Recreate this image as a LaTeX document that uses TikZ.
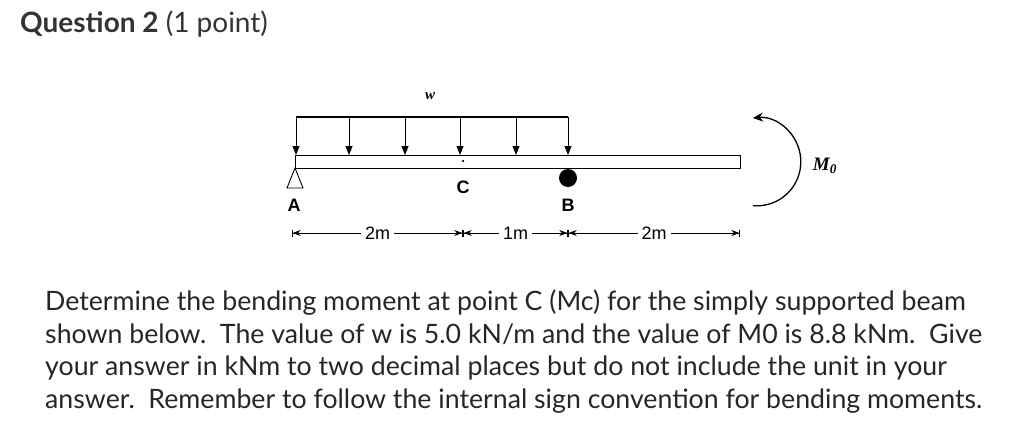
\documentclass[tikz,border=0pt]{standalone}
\usepackage{fontspec}
\setmainfont{Lato}
\newfontfamily\arialf{Liberation Sans}
\newfontfamily\timesf{Liberation Serif}
\usetikzlibrary{arrows.meta}
\begin{document}
\begin{tikzpicture}[x=1pt,y=-1pt,
  load/.style={-{Triangle[length=9pt,width=7pt]},line width=1pt},
  dim/.style={{Bar[width=7pt]Stealth[length=8pt,width=6pt]}-{Stealth[length=8pt,width=6pt]Bar[width=7pt]},line width=0.7pt},
  lbl/.style={font=\arialf\fontsize{18}{20}\selectfont},
  body/.style={font=\fontsize{26.7}{32.5}\selectfont,text=black!85,align=left,anchor=north west,inner sep=0}]
\useasboundingbox (0,0) rectangle (1024,441);
\node[anchor=west,inner sep=0,font=\fontsize{28}{32}\selectfont,text=black!80] (title) at (20,24) {\textbf{Question 2} (1 point)};
% beam
\draw[line width=0.9pt] (295,155) rectangle (740,168);
\node[circle,fill,inner sep=0,minimum size=2.5pt] (cdot) at (463,161) {};
% load
\draw[line width=1pt] (296,117) -- (568,117);
\foreach \x in {296,349,405,460,516,568}{\draw[load] (\x,117) -- (\x,155);}
\node[font=\timesf\itshape\bfseries\fontsize{15}{16}\selectfont] (w) at (430,96) {w};
% supports
\draw[line width=0.9pt] (295,168) -- (287,188) -- (303,188) -- cycle;
\node[circle,fill,minimum size=18pt,inner sep=0] (B) at (568,178) {};
\node[lbl] (la) at (294,205) {\textbf{A}};
\node[lbl] (lc) at (463,187) {\textbf{C}};
\node[lbl] (lb) at (568,205) {\textbf{B}};
% dimensions
\coordinate (d0) at (292,233); \coordinate (d1) at (463,233);
\coordinate (d2) at (568,233); \coordinate (d3) at (740,233);
\draw[dim] (d0) -- node[fill=white,lbl,inner sep=4pt]{2m} (d1);
\draw[dim] (d1) -- node[fill=white,lbl,inner sep=4pt]{1m} (d2);
\draw[dim] (d2) -- node[fill=white,lbl,inner sep=4pt]{2m} (d3);
% moment
\draw[line width=1.3pt,{Stealth[length=10pt,width=9pt]}-] (753,118) arc[start angle=-95,end angle=95,radius=44];
\node[font=\timesf\itshape\bfseries\fontsize{19}{20}\selectfont] (M) at (825,166) {M\textsubscript{0}};
% text
\node[body] (txt) at (45,290) {Determine the bending moment at point C (Mc) for the simply supported beam\\ shown below.\ \ The value of w is 5.0 kN/m and the value of M0 is 8.8 kNm.\ \ Give\\ your answer in kNm to two decimal places but do not include the unit in your\\ answer.\ \ Remember to follow the internal sign convention for bending moments.};
\end{tikzpicture}
\end{document}
